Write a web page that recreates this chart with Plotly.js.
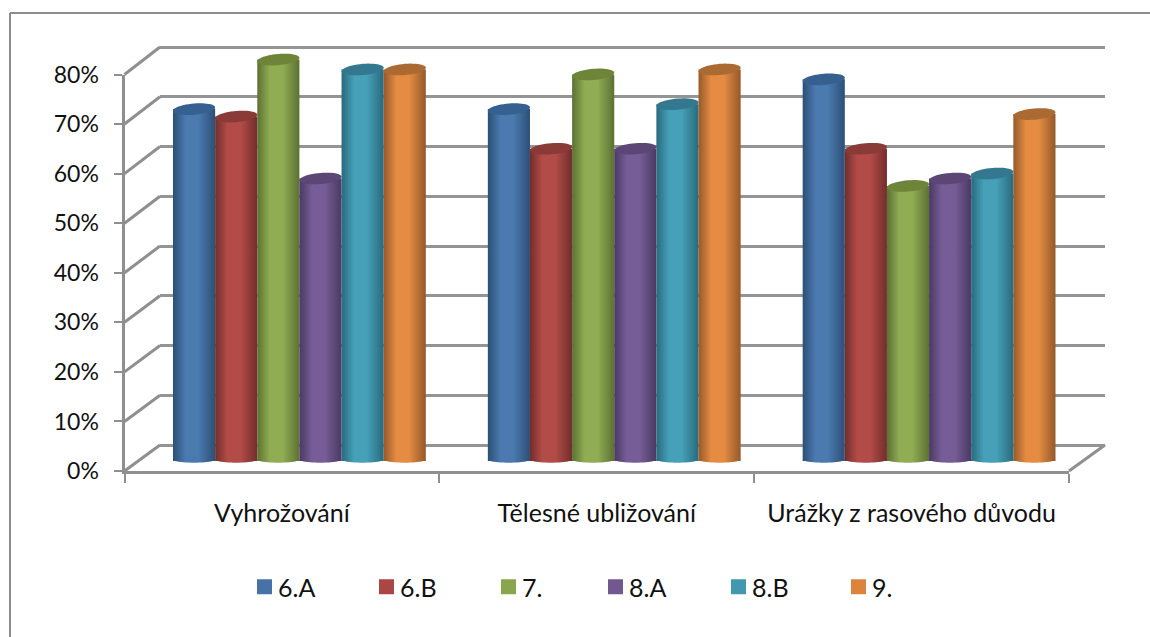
<!DOCTYPE html>
<html>
<head>
<meta charset="utf-8">
<script src="https://cdn.plot.ly/plotly-3.0.1.min.js"></script>
<style>html,body{margin:0;padding:0;background:#fff}#chart{width:1150px;height:637px}</style>
</head>
<body>
<div id="chart"></div>
<script>
// Survey results per class, in percent
const categories = ["Vyhrožování", "Tělesné ubližování", "Urážky z rasového důvodu"];
const seriesNames = ["6.A", "6.B", "7.", "8.A", "8.B", "9."];
const class6A = [71, 71, 77];
const class6B = [69.5, 63, 63];
const class7  = [81, 78, 55.5];
const class8A = [57, 63, 57];
const class8B = [79, 72, 58];
const class9  = [79, 79, 70];
const allSeries = [class6A, class6B, class7, class8A, class8B, class9];

const legendColors = ["#4672a8", "#aa4643", "#89a54e", "#71588f", "#4198af", "#db843d"];
const edgeColors   = ["#2c4f76", "#722d2b", "#5c7133", "#4a3963", "#296a7d", "#95592a"];
const midColors    = ["#4a7ab0", "#b34c49", "#90ad53", "#775d97", "#45a0b8", "#e58c42"];
const capColors    = ["#35608f", "#8a3a37", "#6d8439", "#5b4675", "#33788e", "#ab6a31"];
const legendX      = [238, 360, 482, 589, 712, 832];

// Pixel geometry of the box: front plane, back wall and the mid-depth bar plane
const W = 1150, H = 637;
const front = {l: 124.5, r: 1069, y0: 471, y80: 74.5};
const back  = {l: 160, r: 1105, y0: 445, y80: 47};
const barPlane = {l: 142, r: 1086.5, y0: 461};
const perUnit = (front.y0 - front.y80) / 80;
const gray = "#8f8f8f";
const axisFont = {family: "Lato, Carlito, sans-serif", size: 23, color: "#111"};
const catFont = {family: "Lato, Carlito, sans-serif", size: 25, color: "#111"};
const yTicks = [0, 10, 20, 30, 40, 50, 60, 70, 80];

const px = x => x / W, py = y => 1 - y / H;

// Bars are drawn a little past 0 and 80 so that the round ends stay visible
const barMin = -5, barMax = 90;
const barPlaneDomain = [py(barPlane.y0 - barMin * perUnit), py(barPlane.y0 - barMax * perUnit)];

const groupGap = 0.197, barW = (1 - groupGap) / seriesNames.length;

// Closed outline of a tilted ellipse round (cx, value), in axis units
function capPath(cx, v) {
  const a = barW / 2, b = 5.6 / perUnit, tilt = 1.7 / perUnit;
  const pts = [];
  for (let k = 0; k < 48; k++) {
    const t = k / 48 * 2 * Math.PI;
    const dx = a * Math.cos(t);
    pts.push((cx + dx).toFixed(4) + "," + (v + b * Math.sin(t) + tilt * Math.cos(t)).toFixed(3));
  }
  return "M" + pts.join("L") + "Z";
}
// Rounded underside of a bar
function basePath(cx) {
  const a = barW / 2, b = 3.2 / perUnit;
  const pts = [];
  for (let k = 0; k <= 24; k++) {
    const t = k / 24 * Math.PI;
    pts.push((cx + a * Math.cos(t)).toFixed(4) + "," + (0.3 - b * Math.sin(t)).toFixed(3));
  }
  return "M" + pts.join("L") + "Z";
}

const line = (x0, y0, x1, y1, width, color) => ({
  type: "line", xref: "paper", yref: "paper", layer: "below",
  x0: px(x0), y0: py(y0), x1: px(x1), y1: py(y1),
  line: {color: color || gray, width: width || 3}
});

const shapes = [
  line(10, 13, 1150, 13, 2, "#8c8c8c"),
  line(10, 13, 10, 637, 2, "#8c8c8c"),
  line(front.r, front.y0, back.r, back.y0, 3)
];
// Side wall links each front tick to its back wall gridline
yTicks.forEach(v => {
  const f = front.y0 - v * perUnit, b = back.y0 - v * (back.y0 - back.y80) / 80;
  shapes.push(line(front.l, f, back.l, b, 3));
});

const gradientShapes = [];
allSeries.forEach((vals, s) => {
  vals.forEach((v, c) => {
    const cx = c - (1 - groupGap) / 2 + barW * (s + 0.5);
    gradientShapes.push({index: shapes.length, series: s});
    shapes.push({type: "path", xref: "x3", yref: "y3", layer: "above", path: basePath(cx),
      fillcolor: midColors[s], line: {width: 0}});
    shapes.push({type: "path", xref: "x3", yref: "y3", layer: "above", path: capPath(cx, v),
      fillcolor: capColors[s], line: {width: 0}});
  });
});

const traces = allSeries.map((vals, s) => ({
  type: "bar", name: seriesNames[s], x: [0, 1, 2], y: vals,
  xaxis: "x3", yaxis: "y3",
  marker: {color: legendColors[s], line: {width: 0}},
  legend: s === 0 ? "legend" : "legend" + (s + 1),
  hoverinfo: "skip"
}));
// Invisible trace that gives the front category axis its labels
traces.push({type: "scatter", mode: "none", x: categories, y: [0, 0, 0], xaxis: "x2", yaxis: "y2",
  showlegend: false, hoverinfo: "skip"});
// Invisible trace on the back wall axes
traces.push({type: "scatter", mode: "none", x: [0, 1], y: [0, 80], xaxis: "x", yaxis: "y",
  showlegend: false, hoverinfo: "skip"});

// Back wall axis runs slightly past 0 and 80 so that the end gridlines are kept
const backUnit = (back.y0 - back.y80) / 80, backPad = 2;

const layout = {
  width: W, height: H, margin: {l: 0, r: 0, t: 0, b: 0},
  paper_bgcolor: "#fff", plot_bgcolor: "rgba(0,0,0,0)",
  font: axisFont, barmode: "group", bargap: groupGap, bargroupgap: 0,
  shapes: shapes,
  // back wall
  xaxis: {domain: [px(back.l), px(back.r)], range: [0, 1], visible: false, anchor: "y"},
  yaxis: {domain: [py(back.y0 + backPad * backUnit), py(back.y80 - backPad * backUnit)],
    range: [-backPad, 80 + backPad], anchor: "x", tickvals: yTicks,
    showgrid: true, gridcolor: "#949494", gridwidth: 3, zeroline: false, showline: false,
    ticks: "", showticklabels: false},
  // front plane with the visible axes
  xaxis2: {domain: [px(front.l), px(front.r)], type: "category", range: [-0.5, 2.5],
    tickson: "boundaries", anchor: "y2",
    showline: true, linecolor: gray, linewidth: 3, ticks: "outside", ticklen: 9, tickwidth: 2,
    tickcolor: gray, showgrid: false, zeroline: false, tickfont: catFont, ticklabelstandoff: 18,
    categoryorder: "array", categoryarray: categories},
  yaxis2: {domain: [py(front.y0), py(front.y80)], range: [0, 80], anchor: "x2", tickvals: yTicks,
    ticktext: yTicks.map(v => v + "%"), showline: true, linecolor: gray, linewidth: 3,
    ticks: "outside", ticklen: 8, tickwidth: 2, tickcolor: gray, showgrid: false, zeroline: false,
    tickfont: axisFont, ticklabelstandoff: 10},
  // plane the bars stand on
  xaxis3: {domain: [px(barPlane.l), px(barPlane.r)], range: [-0.5, 2.5], visible: false, anchor: "y3"},
  yaxis3: {domain: barPlaneDomain, range: [barMin, barMax], visible: false, anchor: "x3"}
};

// One legend box per class so that each entry keeps its own position
seriesNames.forEach((n, s) => {
  layout[s === 0 ? "legend" : "legend" + (s + 1)] = {
    x: px(legendX[s]), y: py(587), xanchor: "left", yanchor: "middle",
    bgcolor: "rgba(0,0,0,0)", borderwidth: 0, font: catFont, itemclick: false, itemdoubleclick: false
  };
});

Plotly.newPlot("chart", traces, layout, {displayModeBar: false, staticPlot: true}).then(gd => {
  const svg = gd.querySelector("svg.main-svg");
  const NS = "http://www.w3.org/2000/svg";
  const defs = document.createElementNS(NS, "defs");
  // Horizontal shading that makes each bar read as a cylinder
  edgeColors.forEach((edge, s) => {
    const g = document.createElementNS(NS, "linearGradient");
    g.setAttribute("id", "cyl" + s);
    [[0, edge], [0.3, midColors[s]], [0.6, midColors[s]], [1, edge]].forEach(([o, c]) => {
      const st = document.createElementNS(NS, "stop");
      st.setAttribute("offset", o);
      st.setAttribute("stop-color", c);
      g.appendChild(st);
    });
    defs.appendChild(g);
  });
  svg.insertBefore(defs, svg.firstChild);

  gd.querySelectorAll(".barlayer .trace.bars").forEach((tr, s) => {
    tr.querySelectorAll("path").forEach(p => { p.style.fill = "url(#cyl" + s + ")"; });
  });
  gradientShapes.forEach(({index, series}) => {
    gd.querySelectorAll('.shapelayer path[data-index="' + index + '"]').forEach(p => {
      p.style.fill = "url(#cyl" + series + ")";
    });
  });
  // Larger legend keys, set closer to their labels
  gd.querySelectorAll(".legendpoints path").forEach(p => {
    p.setAttribute("d", "M14,7.5H-1V-7.5H14Z");
  });
});
</script>
</body>
</html>
